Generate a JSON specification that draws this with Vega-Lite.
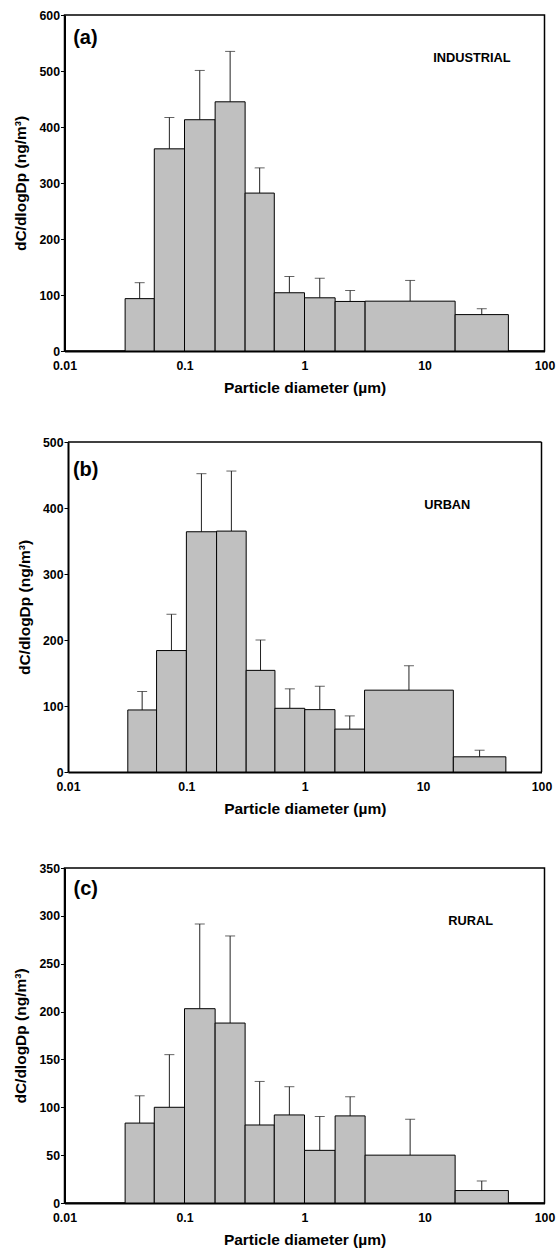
{
  "$schema": "https://vega.github.io/schema/vega-lite/v6.json",
  "padding": {"left": 12.5, "top": 8, "right": 5, "bottom": 0},
  "background": "white",
  "config": {
    "font": "Liberation Sans",
    "view": {"stroke": "#000", "strokeWidth": 1.5},
    "axis": {
      "grid": false,
      "domainColor": "#000",
      "domainWidth": 2,
      "labelColor": "#000",
      "labelFont": "Liberation Sans",
      "labelFontWeight": "bold",
      "labelFontSize": 12.3,
      "titleColor": "#000",
      "titleFont": "Liberation Sans",
      "titleFontWeight": "bold",
      "titleFontSize": 15.5,
      "tickColor": "#000"
    },
    "axisX": {"ticks": false, "labelPadding": 8, "titlePadding": 9, "labelFlush": false},
    "axisY": {"tickSize": 4, "labelPadding": 1, "titlePadding": 10}
  },
  "datasets": {
    "pm": [
      {"site": "INDUSTRIAL", "lo": 0.032, "hi": 0.056, "mid": 0.0423, "c": 93.5, "err": 122},
      {"site": "INDUSTRIAL", "lo": 0.056, "hi": 0.1, "mid": 0.0748, "c": 361, "err": 417},
      {"site": "INDUSTRIAL", "lo": 0.1, "hi": 0.18, "mid": 0.134, "c": 413, "err": 501},
      {"site": "INDUSTRIAL", "lo": 0.18, "hi": 0.32, "mid": 0.24, "c": 445, "err": 535},
      {"site": "INDUSTRIAL", "lo": 0.32, "hi": 0.56, "mid": 0.423, "c": 282, "err": 327},
      {"site": "INDUSTRIAL", "lo": 0.56, "hi": 1.0, "mid": 0.748, "c": 104, "err": 133},
      {"site": "INDUSTRIAL", "lo": 1.0, "hi": 1.8, "mid": 1.34, "c": 95, "err": 130},
      {"site": "INDUSTRIAL", "lo": 1.8, "hi": 3.2, "mid": 2.4, "c": 88.5, "err": 108},
      {"site": "INDUSTRIAL", "lo": 3.2, "hi": 18, "mid": 7.59, "c": 89, "err": 126},
      {"site": "INDUSTRIAL", "lo": 18, "hi": 50, "mid": 30, "c": 65, "err": 75.5},
      {"site": "URBAN", "lo": 0.032, "hi": 0.056, "mid": 0.0423, "c": 94, "err": 122},
      {"site": "URBAN", "lo": 0.056, "hi": 0.1, "mid": 0.0748, "c": 184, "err": 239},
      {"site": "URBAN", "lo": 0.1, "hi": 0.18, "mid": 0.134, "c": 364, "err": 452},
      {"site": "URBAN", "lo": 0.18, "hi": 0.32, "mid": 0.24, "c": 365, "err": 456},
      {"site": "URBAN", "lo": 0.32, "hi": 0.56, "mid": 0.423, "c": 154, "err": 200},
      {"site": "URBAN", "lo": 0.56, "hi": 1.0, "mid": 0.748, "c": 96.5, "err": 126},
      {"site": "URBAN", "lo": 1.0, "hi": 1.8, "mid": 1.34, "c": 94.5, "err": 130},
      {"site": "URBAN", "lo": 1.8, "hi": 3.2, "mid": 2.4, "c": 65, "err": 85},
      {"site": "URBAN", "lo": 3.2, "hi": 18, "mid": 7.59, "c": 124, "err": 161},
      {"site": "URBAN", "lo": 18, "hi": 50, "mid": 30, "c": 23, "err": 33},
      {"site": "RURAL", "lo": 0.032, "hi": 0.056, "mid": 0.0423, "c": 83.5, "err": 112},
      {"site": "RURAL", "lo": 0.056, "hi": 0.1, "mid": 0.0748, "c": 100, "err": 155},
      {"site": "RURAL", "lo": 0.1, "hi": 0.18, "mid": 0.134, "c": 203, "err": 291.5},
      {"site": "RURAL", "lo": 0.18, "hi": 0.32, "mid": 0.24, "c": 188, "err": 279},
      {"site": "RURAL", "lo": 0.32, "hi": 0.56, "mid": 0.423, "c": 81.5, "err": 127},
      {"site": "RURAL", "lo": 0.56, "hi": 1.0, "mid": 0.748, "c": 92, "err": 121.5},
      {"site": "RURAL", "lo": 1.0, "hi": 1.8, "mid": 1.34, "c": 55, "err": 90.5},
      {"site": "RURAL", "lo": 1.8, "hi": 3.2, "mid": 2.4, "c": 91, "err": 111},
      {"site": "RURAL", "lo": 3.2, "hi": 18, "mid": 7.59, "c": 50, "err": 87.5},
      {"site": "RURAL", "lo": 18, "hi": 50, "mid": 30, "c": 13, "err": 23}
    ]
  },
  "spacing": 44,
  "vconcat": [
    {
      "spacing": 39,
      "vconcat": [
        {
          "width": 480,
          "height": 336,
          "layer": [
            {"data": {"name": "pm"}, "transform": [{"filter": "datum.site === 'INDUSTRIAL'"}],
             "mark": {"type": "rule", "color": "#222", "strokeWidth": 1},
             "encoding": {
               "x": {"field": "mid", "type": "quantitative", "scale": {"type": "log", "domain": [0.01, 100], "nice": false},
                     "axis": {"values": [0.01, 0.1, 1, 10, 100], "format": "~g", "title": "Particle diameter (µm)"}},
               "y": {"field": "c", "type": "quantitative", "scale": {"domain": [0, 600], "nice": false},
                     "axis": {"values": [0, 100, 200, 300, 400, 500, 600], "title": "dC/dlogDp (ng/m³)"}},
               "y2": {"field": "err"}}},
            {"data": {"name": "pm"}, "transform": [{"filter": "datum.site === 'INDUSTRIAL'"}],
             "mark": {"type": "tick", "orient": "horizontal", "color": "#222", "size": 10, "thickness": 1},
             "encoding": {"x": {"field": "mid", "type": "quantitative"}, "y": {"field": "err", "type": "quantitative"}}},
            {"data": {"name": "pm"}, "transform": [{"filter": "datum.site === 'INDUSTRIAL'"}],
             "mark": {"type": "rect", "fill": "#c0c0c0", "stroke": "#000", "strokeWidth": 1},
             "encoding": {"x": {"field": "lo", "type": "quantitative"}, "x2": {"field": "hi"}, "y": {"field": "c", "type": "quantitative"}, "y2": {"datum": 0}}},
            {"data": {"values": [{"t": "(a)"}]},
             "mark": {"type": "text", "align": "left", "baseline": "middle", "fontSize": 20, "fontWeight": "bold", "color": "#000"},
             "encoding": {"x": {"datum": 0.0118, "type": "quantitative"}, "y": {"datum": 559, "type": "quantitative"}, "text": {"field": "t", "type": "nominal"}}},
            {"data": {"values": [{"t": "INDUSTRIAL"}]},
             "mark": {"type": "text", "align": "left", "baseline": "middle", "fontSize": 12.8, "fontWeight": "bold", "color": "#000"},
             "encoding": {"x": {"datum": 11.8, "type": "quantitative"}, "y": {"datum": 523, "type": "quantitative"}, "text": {"field": "t", "type": "nominal"}}}
          ]
        },
        {
          "width": 477,
          "height": 330,
          "view": {"stroke": null},
          "layer": [
            {"data": {"name": "pm"}, "transform": [{"filter": "datum.site === 'URBAN'"}],
             "mark": {"type": "rule", "color": "#222", "strokeWidth": 1},
             "encoding": {
               "x": {"field": "mid", "type": "quantitative", "scale": {"type": "log", "domain": [0.01, 100], "nice": false, "range": [3.5, 477]},
                     "axis": {"values": [0.01, 0.1, 1, 10, 100], "format": "~g", "title": "Particle diameter (µm)"}},
               "y": {"field": "c", "type": "quantitative", "scale": {"domain": [0, 500], "nice": false},
                     "axis": {"values": [0, 100, 200, 300, 400, 500], "title": "dC/dlogDp (ng/m³)", "offset": -3.5}},
               "y2": {"field": "err"}}},
            {"data": {"name": "pm"}, "transform": [{"filter": "datum.site === 'URBAN'"}],
             "mark": {"type": "tick", "orient": "horizontal", "color": "#222", "size": 10, "thickness": 1},
             "encoding": {"x": {"field": "mid", "type": "quantitative"}, "y": {"field": "err", "type": "quantitative"}}},
            {"data": {"name": "pm"}, "transform": [{"filter": "datum.site === 'URBAN'"}],
             "mark": {"type": "rect", "fill": "#c0c0c0", "stroke": "#000", "strokeWidth": 1},
             "encoding": {"x": {"field": "lo", "type": "quantitative"}, "x2": {"field": "hi"}, "y": {"field": "c", "type": "quantitative"}, "y2": {"datum": 0}}},
            {"data": {"values": [{}]},
             "mark": {"type": "rule", "color": "#000", "strokeWidth": 1.5},
             "encoding": {"x": {"datum": 0.01, "type": "quantitative"}, "x2": {"datum": 100}, "y": {"datum": 500, "type": "quantitative"}}},
            {"data": {"values": [{}]},
             "mark": {"type": "rule", "color": "#000", "strokeWidth": 1.5},
             "encoding": {"x": {"datum": 100, "type": "quantitative"}, "y": {"datum": 0, "type": "quantitative"}, "y2": {"datum": 500}}},
            {"data": {"values": [{"t": "(b)"}]},
             "mark": {"type": "text", "align": "left", "baseline": "middle", "fontSize": 20, "fontWeight": "bold", "color": "#000"},
             "encoding": {"x": {"datum": 0.011, "type": "quantitative"}, "y": {"datum": 457, "type": "quantitative"}, "text": {"field": "t", "type": "nominal"}}},
            {"data": {"values": [{"t": "URBAN"}]},
             "mark": {"type": "text", "align": "left", "baseline": "middle", "fontSize": 12.8, "fontWeight": "bold", "color": "#000"},
             "encoding": {"x": {"datum": 10.2, "type": "quantitative"}, "y": {"datum": 405, "type": "quantitative"}, "text": {"field": "t", "type": "nominal"}}}
          ]
        }
      ]
    },
    {
      "width": 480,
      "height": 335,
      "layer": [
        {"data": {"name": "pm"}, "transform": [{"filter": "datum.site === 'RURAL'"}],
         "mark": {"type": "rule", "color": "#222", "strokeWidth": 1},
         "encoding": {
           "x": {"field": "mid", "type": "quantitative", "scale": {"type": "log", "domain": [0.01, 100], "nice": false},
                 "axis": {"values": [0.01, 0.1, 1, 10, 100], "format": "~g", "title": "Particle diameter (µm)"}},
           "y": {"field": "c", "type": "quantitative", "scale": {"domain": [0, 350], "nice": false},
                 "axis": {"values": [0, 50, 100, 150, 200, 250, 300, 350], "title": "dC/dlogDp (ng/m³)"}},
           "y2": {"field": "err"}}},
        {"data": {"name": "pm"}, "transform": [{"filter": "datum.site === 'RURAL'"}],
         "mark": {"type": "tick", "orient": "horizontal", "color": "#222", "size": 10, "thickness": 1},
         "encoding": {"x": {"field": "mid", "type": "quantitative"}, "y": {"field": "err", "type": "quantitative"}}},
        {"data": {"name": "pm"}, "transform": [{"filter": "datum.site === 'RURAL'"}],
         "mark": {"type": "rect", "fill": "#c0c0c0", "stroke": "#000", "strokeWidth": 1},
         "encoding": {"x": {"field": "lo", "type": "quantitative"}, "x2": {"field": "hi"}, "y": {"field": "c", "type": "quantitative"}, "y2": {"datum": 0}}},
        {"data": {"values": [{"t": "(c)"}]},
         "mark": {"type": "text", "align": "left", "baseline": "middle", "fontSize": 20, "fontWeight": "bold", "color": "#000"},
         "encoding": {"x": {"datum": 0.0119, "type": "quantitative"}, "y": {"datum": 328, "type": "quantitative"}, "text": {"field": "t", "type": "nominal"}}},
        {"data": {"values": [{"t": "RURAL"}]},
         "mark": {"type": "text", "align": "left", "baseline": "middle", "fontSize": 12.8, "fontWeight": "bold", "color": "#000"},
         "encoding": {"x": {"datum": 15.8, "type": "quantitative"}, "y": {"datum": 295, "type": "quantitative"}, "text": {"field": "t", "type": "nominal"}}}
      ]
    }
  ]
}
